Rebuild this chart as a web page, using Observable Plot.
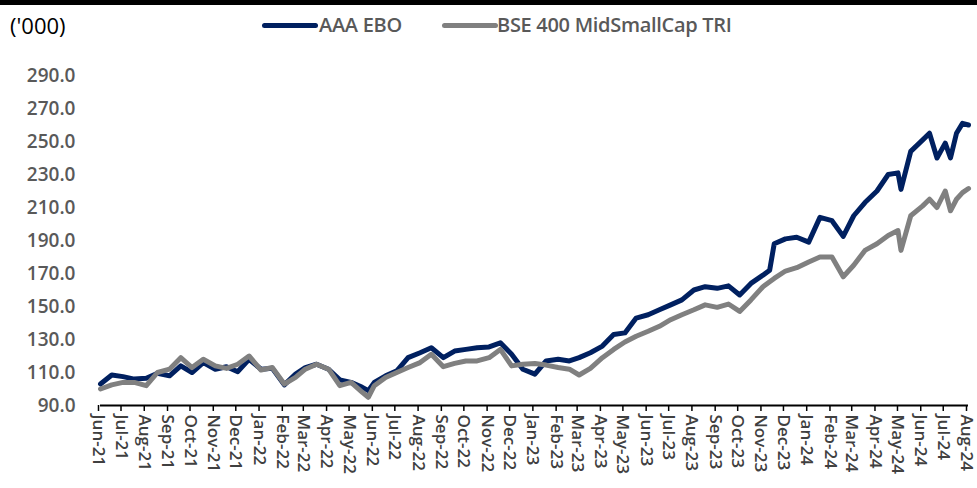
<!DOCTYPE html>
<html>
<head>
<meta charset="utf-8">
<script src="https://cdn.jsdelivr.net/npm/d3@7"></script>
<script src="https://cdn.jsdelivr.net/npm/@observablehq/plot@0.6"></script>
<style>
  html, body { margin: 0; padding: 0; background: #fff; }
  body { width: 977px; height: 488px; overflow: hidden; position: relative; font-family: "Open Sans", "Liberation Sans", sans-serif; }
  #topbar { position: absolute; left: 0; top: 0; width: 977px; height: 5px; background: #000; }
  #header { position: relative; width: 977px; height: 50px; }
  #unit { position: absolute; left: 10px; top: 10px; font-size: 22px; color: #000; line-height: 30px; }
  .lg-swatch { position: absolute; height: 5px; border-radius: 3px; }
  .lg-text { position: absolute; font-size: 20px; font-weight: 600; color: #595959; line-height: 26px; white-space: nowrap; letter-spacing: -0.3px; }
  #chart { position: relative; width: 977px; }
  #chart svg { display: block; }
</style>
</head>
<body>
<div id="topbar"></div>
<div id="header"><div id="unit">('000)</div></div>
<div id="chart"></div>
<script>
// ---- Data ----
const seriesNames = ["AAA EBO", "BSE 400 MidSmallCap TRI"];
const seriesColors = ["#002060", "#808080"];

const dates = [
  "2021-06-01","2021-06-16","2021-07-01","2021-07-16","2021-08-01","2021-08-16","2021-09-01","2021-09-16",
  "2021-10-01","2021-10-16","2021-11-01","2021-11-16","2021-12-01","2021-12-16",
  "2022-01-01","2022-01-16","2022-02-01","2022-02-16","2022-03-01","2022-03-16","2022-04-01","2022-04-16",
  "2022-05-01","2022-05-16","2022-05-24","2022-06-01","2022-06-16","2022-07-01","2022-07-16","2022-08-01","2022-08-16",
  "2022-09-01","2022-09-16","2022-10-01","2022-10-16","2022-11-01","2022-11-16","2022-12-01","2022-12-16",
  "2023-01-01","2023-01-16","2023-02-01","2023-02-16","2023-03-01","2023-03-16","2023-04-01","2023-04-16",
  "2023-05-01","2023-05-16","2023-06-01","2023-06-16","2023-07-01","2023-07-16","2023-08-01","2023-08-16",
  "2023-09-01","2023-09-16","2023-10-01","2023-10-16","2023-11-01","2023-11-10","2023-11-16","2023-12-01","2023-12-16",
  "2024-01-01","2024-01-16","2024-02-01","2024-02-16","2024-03-01","2024-03-16","2024-04-01","2024-04-16",
  "2024-04-29","2024-05-03","2024-05-16","2024-06-01","2024-06-10","2024-06-20","2024-07-01","2024-07-08",
  "2024-07-16","2024-07-24","2024-08-01"
];

const aaaValues = [
  103, 108.5, 107.5, 106, 106.5, 109.5, 108, 114,
  110, 116, 112, 113.5, 110.5, 118,
  112, 112.5, 102.5, 109, 113, 115, 112, 105.5,
  104, 101, 99, 104, 108, 111, 119, 122, 125,
  119, 123, 124, 125, 125.5, 128, 121, 112,
  109, 117, 118, 117, 119, 122, 126, 133,
  134, 143, 145, 148, 151, 154, 160, 162,
  161, 162.5, 157, 164, 169, 172, 188, 191, 192,
  189, 204, 202, 192.5, 205, 213, 220, 230,
  231, 221, 244, 251, 255, 240, 249, 240,
  255, 261, 260
];

const bseValues = [
  100, 102.5, 104, 104, 102, 110, 112, 119,
  113, 118, 114, 112.5, 115, 120,
  111.5, 113, 103, 107, 112, 115, 112, 102,
  104, 98, 95, 102, 107, 110, 113, 116, 121,
  113.5, 115.5, 117, 117, 119, 124, 114, 115,
  115.5, 114.5, 113, 112, 108.5, 112.5, 119, 124,
  128.5, 132, 135, 138, 142, 145, 148, 151,
  149.5, 151.5, 147, 154, 162, 165, 167, 171.5, 173.5,
  177, 180, 180, 168, 175, 184, 188, 193,
  196, 184, 205, 211, 215, 210, 220, 208,
  215, 219, 221.5
];

const yTicks = [90, 110, 130, 150, 170, 190, 210, 230, 250, 270, 290];
const xStart = "2021-06-01";
const xEnd = "2024-08-01";

// ---- Build rows ----
const rows = [];
dates.forEach((d, i) => {
  rows.push({date: new Date(d), value: aaaValues[i], series: seriesNames[0]});
});
dates.forEach((d, i) => {
  rows.push({date: new Date(d), value: bseValues[i], series: seriesNames[1]});
});
const monthTicks = d3.utcMonth.range(new Date(xStart), d3.utcMonth.offset(new Date(xEnd), 1));

// ---- Legend (HTML, above the SVG) ----
const header = document.getElementById("header");
const legendPos = [{sw: 262, tx: 319}, {sw: 442, tx: 497}];
seriesNames.forEach((name, i) => {
  const sw = document.createElement("div");
  sw.className = "lg-swatch";
  sw.style.left = legendPos[i].sw + "px";
  sw.style.top = "23px";
  sw.style.width = "56px";
  sw.style.background = seriesColors[i];
  header.appendChild(sw);
  const tx = document.createElement("div");
  tx.className = "lg-text";
  tx.style.left = legendPos[i].tx + "px";
  tx.style.top = "12px";
  tx.textContent = name;
  header.appendChild(tx);
});

// ---- Chart ----
const chart = Plot.plot({
  width: 977,
  height: 438,
  marginLeft: 100,
  marginRight: 9,
  marginTop: 25,
  marginBottom: 83,
  style: {fontFamily: "'Open Sans', 'Liberation Sans', sans-serif", background: "#fff", overflow: "hidden"},
  x: {type: "utc", domain: [new Date(xStart), new Date(xEnd)]},
  y: {domain: [90, 290]},
  color: {domain: seriesNames, range: seriesColors},
  marks: [
    Plot.axisY({
      ticks: yTicks,
      tickFormat: d3.format(".1f"),
      tickSize: 0,
      tickPadding: 25,
      label: null,
      fontSize: 19,
      fontWeight: 600,
      fill: "#595959"
    }),
    Plot.axisX({
      ticks: monthTicks,
      tickFormat: d3.utcFormat("%b-%y"),
      tickRotate: 90,
      tickSize: 6,
      tickPadding: 3,
      label: null,
      fontSize: 17,
      fontWeight: 600,
      fill: "#404040",
      stroke: "#000",
      strokeWidth: 1.5,
      dx: -2
    }),
    Plot.ruleY([90], {stroke: "#000", strokeWidth: 2}),
    Plot.line(rows, {
      x: "date",
      y: "value",
      z: "series",
      stroke: "series",
      strokeWidth: 5,
      strokeLinejoin: "round",
      strokeLinecap: "round",
      curve: "linear"
    })
  ]
});
document.getElementById("chart").appendChild(chart);
</script>
</body>
</html>
